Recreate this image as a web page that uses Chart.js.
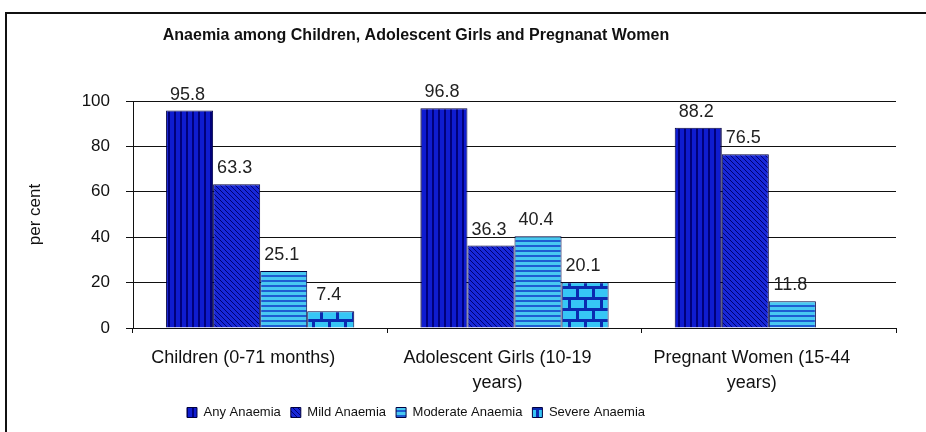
<!DOCTYPE html>
<html>
<head>
<meta charset="utf-8">
<script src="https://cdn.jsdelivr.net/npm/chart.js@4.4.1/dist/chart.umd.min.js"></script>
<style>
  html, body { margin: 0; padding: 0; background: #fff; }
  #wrap { position: relative; width: 926px; height: 432px; }
  #frame { position: absolute; left: 5px; top: 12px; right: 0; bottom: 0;
           border-left: 2px solid #111; border-top: 2px solid #111; }
  canvas { position: absolute; left: 0; top: 0; }
</style>
</head>
<body>
<div id="wrap">
  <div id="frame"></div>
  <canvas id="chart" width="926" height="432"></canvas>
</div>
<script>
const chartTitle = 'Anaemia among Children, Adolescent Girls and Pregnanat Women'
const categories = [
  'Children (0-71 months)',
  ['Adolescent Girls (10-19', 'years)'],
  ['Pregnant Women (15-44', 'years)']
]
const anyAnaemia = [95.8, 96.8, 88.2]
const mildAnaemia = [63.3, 36.3, 76.5]
const moderateAnaemia = [25.1, 40.4, 11.8]
const severeAnaemia = [7.4, 20.1, null]
const yTicks = [0, 20, 40, 60, 80, 100]

const FONT = 'Arial, "Liberation Sans", sans-serif'

// little canvas patterns to mimic the hatched fills of the scan
function makePattern(w, h, draw) {
    const c = document.createElement('canvas')
    c.width = w
    c.height = h
    const g = c.getContext('2d')
    draw(g, w, h)
    return g.createPattern(c, 'repeat')
}
const ctx0 = document.getElementById('chart').getContext('2d')

const patAny = makePattern(6, 6, (g, w, h) => {
    g.fillStyle = '#0f1cd0'
    g.fillRect(0, 0, w, h)
    g.fillStyle = '#00007a'
    g.fillRect(0, 0, 2, h)
})
const patMild = makePattern(5, 5, (g, w, h) => {
    g.fillStyle = '#1828d8'
    g.fillRect(0, 0, w, h)
    g.fillStyle = '#000070'
    for (let i = 0; i < w; i++) g.fillRect(i, i, 1, 1)
})
const patModerate = makePattern(5, 5, (g, w, h) => {
    g.fillStyle = '#48c8f2'
    g.fillRect(0, 0, w, h)
    g.fillStyle = '#1e5cd2'
    g.fillRect(0, 0, w, 2)
})
const patSevere = makePattern(16, 22, (g, w, h) => {
    g.fillStyle = '#36c6f6'
    g.fillRect(0, 0, w, h)
    g.fillStyle = '#0a2ab0'
    g.fillRect(0, 0, w, 3)
    g.fillRect(0, 11, w, 3)
    g.fillRect(0, 0, 3, 11)
    g.fillRect(8, 11, 3, 11)
})

const titleText = {
    id: 'titleText',
    beforeDraw(chart) {
        const { ctx } = chart
        ctx.save()
        ctx.font = 'bold 16px ' + FONT
        ctx.fillStyle = '#111'
        ctx.textAlign = 'center'
        ctx.textBaseline = 'middle'
        ctx.fillText(chartTitle, 416, 36)
        ctx.restore()
    }
}

// nudge the legend left like in the scan
const legendShift = {
    id: 'legendShift',
    afterLayout(chart) {
        chart.legend.left -= 42
        chart.legend.right -= 42
    }
}

const valueLabels = {
    id: 'valueLabels',
    afterDatasetsDraw(chart) {
        const { ctx } = chart
        ctx.save()
        ctx.font = '18px ' + FONT
        ctx.fillStyle = '#222'
        ctx.textAlign = 'center'
        ctx.textBaseline = 'alphabetic'
        chart.data.datasets.forEach((ds, i) => {
            chart.getDatasetMeta(i).data.forEach((bar, j) => {
                const v = ds.data[j]
                if (v == null) return
                ctx.fillText(v.toFixed(1), bar.x - 2, bar.y - 11)
            })
        })
        ctx.restore()
    }
}

const barCommon = {
    borderColor: '#000040',
    borderWidth: 1,
    categoryPercentage: 0.74,
    barPercentage: 1.0
}

new Chart(ctx0, {
    type: 'bar',
    data: {
        labels: categories,
        datasets: [
            { label: 'Any Anaemia', data: anyAnaemia, backgroundColor: patAny, ...barCommon },
            { label: 'Mild Anaemia', data: mildAnaemia, backgroundColor: patMild, ...barCommon },
            { label: 'Moderate Anaemia', data: moderateAnaemia, backgroundColor: patModerate, ...barCommon },
            { label: 'Severe Anaemia', data: severeAnaemia, backgroundColor: patSevere, ...barCommon }
        ]
    },
    options: {
        responsive: false,
        animation: false,
        layout: { padding: { left: 20, right: 30, top: 101, bottom: 3 } },
        plugins: {
            title: { display: false },
            legend: {
                position: 'bottom',
                labels: {
                    font: { family: FONT, size: 13 },
                    color: '#111',
                    boxWidth: 10,
                    boxHeight: 10,
                    padding: 10
                }
            },
            tooltip: { enabled: false }
        },
        scales: {
            x: {
                grid: { display: true, drawOnChartArea: false, color: '#111', tickLength: 5, offset: true },
                border: { color: '#111' },
                ticks: {
                    font: { family: FONT, size: 18, lineHeight: 1.4 },
                    color: '#111',
                    labelOffset: -17,
                    maxRotation: 0,
                    padding: 12
                },
                afterFit: s => { s.height = 68 }
            },
            y: {
                min: 0,
                max: 100,
                afterBuildTicks: s => { s.ticks = yTicks.map(v => ({ value: v })) },
                grid: { color: '#111', tickLength: 7 },
                border: { color: '#111' },
                ticks: {
                    font: { family: FONT, size: 17 },
                    color: '#111',
                    padding: 16
                },
                title: {
                    display: true,
                    text: 'per cent',
                    font: { family: FONT, size: 17 },
                    color: '#111',
                    padding: { top: 5, bottom: 0 }
                },
                afterFit: s => { s.width = 113 }
            }
        }
    },
    plugins: [titleText, legendShift, valueLabels]
})
</script>
</body>
</html>
